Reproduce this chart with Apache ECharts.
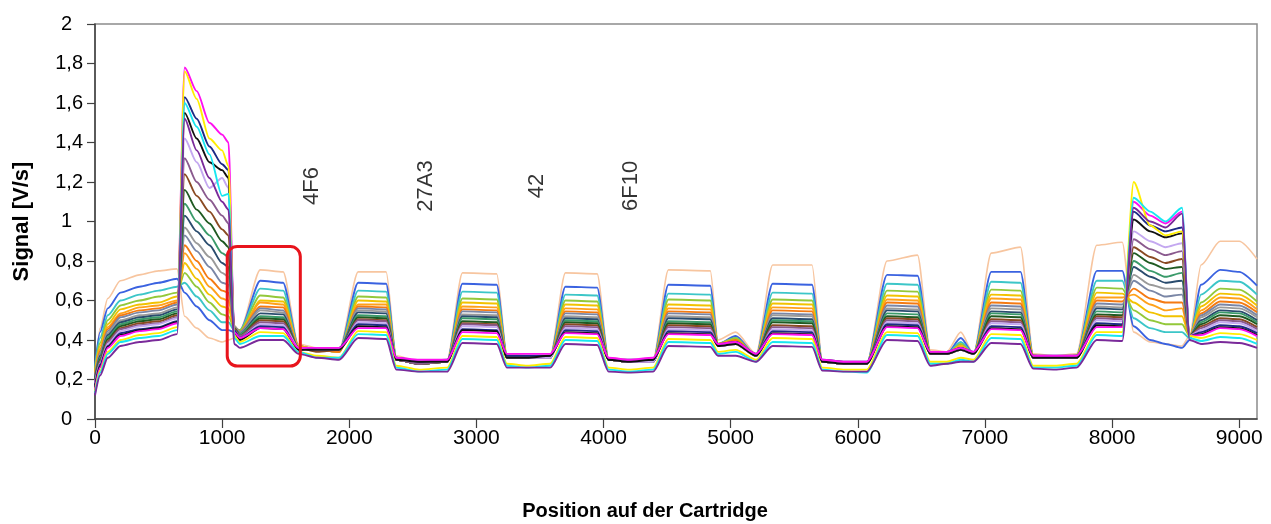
<!DOCTYPE html>
<html>
<head>
<meta charset="utf-8">
<script src="https://cdn.jsdelivr.net/npm/echarts@6/dist/echarts.min.js"></script>
<style>html,body{margin:0;padding:0;background:#fff}#c{width:1271px;height:524px}</style>
</head>
<body>
<div id="c"></div>
<script>
// Positions (x) shared by all curves
const X = [0,40,100,200,350,500,645, 705,800,900,1000,1050,1095,1140, 1300,1480,1600,1750,1920, 2070,2290,2370,2550,2770, 2890,3160,3240,3400,3580, 3700,3950,4040,4200,4390, 4510,4840,4900,5040,5200, 5330,5640,5720,5900,6070, 6230,6470,6570,6700,6810,6910, 7050,7280,7380,7550,7720, 7880,8080, 8170,8300,8420,8550,8610, 8700,8850,9000,9140];

const s_pe = [.22,.46,.61,.70,.73,.75,.76, .52,.46,.41,.39,.40,.41,.45, .755,.745,.38,.36,.35, .745,.745,.32,.29,.30, .74,.735,.33,.32,.32, .74,.735,.31,.30,.30, .755,.75,.40,.44,.33, .78,.78,.30,.29,.28, .80,.83,.35,.34,.44,.33, .84,.87,.33,.32,.33, .88,.895, .44,.39,.38,.37,.42, .78,.90,.90,.81];
const s_bl = [.27,.44,.56,.64,.67,.69,.71, .64,.57,.50,.45,.45,.44,.45, .70,.69,.37,.35,.34, .69,.685,.31,.29,.29, .685,.68,.32,.31,.31, .67,.665,.30,.29,.29, .68,.675,.38,.42,.32, .685,.68,.29,.28,.28, .73,.725,.34,.33,.41,.33, .745,.745,.32,.31,.32, .75,.75, .47,.40,.38,.36,.40, .68,.755,.745,.675];
const s_te = [.26,.41,.525,.60,.63,.65,.67, .69,.62,.55,.49,.49,.45,.45, .66,.65,.37,.35,.34, .65,.645,.31,.29,.29, .645,.64,.32,.31,.31, .63,.625,.30,.29,.29, .635,.63,.38,.41,.32, .64,.635,.29,.28,.28, .685,.68,.34,.33,.39,.33, .695,.69,.32,.31,.32, .70,.70, .51,.46,.44,.44,.41, .63,.70,.695,.63];
const s_gr = [.25,.385,.50,.575,.60,.62,.64, .74,.67,.59,.53,.52,.46,.45, .625,.615,.37,.35,.34, .62,.615,.31,.28,.29, .61,.605,.32,.31,.31, .60,.595,.30,.29,.29, .605,.60,.38,.41,.32, .605,.60,.29,.28,.28, .65,.645,.34,.33,.38,.33, .655,.65,.32,.31,.32, .665,.66, .55,.50,.48,.48,.42, .59,.66,.655,.595];
const s_go = [.24,.37,.48,.555,.58,.59,.62, .79,.71,.63,.57,.56,.46,.44, .60,.595,.37,.35,.34, .60,.595,.30,.28,.29, .59,.585,.32,.31,.31, .58,.575,.30,.29,.29, .58,.575,.38,.40,.32, .585,.58,.29,.28,.28, .625,.62,.34,.33,.37,.33, .63,.625,.32,.31,.32, .64,.635, .59,.54,.52,.52,.42, .57,.635,.63,.575];
const s_or = [.23,.355,.465,.535,.565,.575,.60, .84,.76,.67,.61,.60,.47,.44, .59,.58,.37,.35,.34, .58,.58,.30,.28,.29, .57,.565,.31,.31,.31, .56,.555,.30,.29,.29, .56,.555,.38,.40,.32, .565,.56,.29,.28,.28, .605,.60,.33,.33,.37,.33, .61,.605,.32,.31,.31, .615,.615, .63,.58,.55,.56,.42, .55,.615,.61,.555];
const s_do = [.22,.345,.455,.525,.55,.56,.59, .88,.80,.71,.65,.64,.47,.44, .57,.565,.36,.35,.34, .57,.565,.30,.28,.29, .555,.55,.31,.31,.31, .545,.54,.30,.29,.29, .545,.54,.37,.40,.32, .55,.545,.29,.28,.28, .59,.585,.33,.33,.36,.33, .59,.585,.31,.31,.31, .60,.595, .66,.61,.59,.59,.42, .535,.595,.59,.54];
const s_sl = [.22,.335,.445,.515,.54,.55,.58, .93,.85,.77,.69,.68,.47,.44, .56,.55,.36,.35,.35, .56,.555,.30,.28,.29, .545,.54,.31,.31,.31, .535,.53,.30,.29,.29, .535,.53,.37,.39,.32, .535,.53,.29,.28,.28, .575,.57,.33,.33,.36,.33, .575,.57,.31,.31,.31, .585,.58, .70,.65,.62,.63,.42, .525,.58,.575,.525];
const s_gy = [.21,.33,.435,.50,.525,.535,.565, .97,.89,.82,.74,.72,.47,.43, .55,.54,.36,.35,.35, .55,.545,.30,.28,.29, .53,.525,.31,.31,.31, .52,.515,.30,.29,.29, .52,.515,.37,.39,.32, .525,.52,.29,.28,.28, .56,.555,.33,.33,.36,.33, .56,.555,.31,.31,.31, .57,.565, .73,.68,.66,.66,.42, .515,.565,.56,.515];
const s_db = [.21,.32,.425,.49,.515,.525,.555, 1.03,.95,.88,.79,.77,.46,.43, .535,.53,.36,.35,.35, .54,.535,.30,.28,.29, .52,.515,.31,.31,.31, .51,.505,.30,.29,.29, .51,.505,.37,.39,.32, .51,.505,.29,.28,.28, .55,.545,.33,.33,.36,.33, .545,.54,.31,.31,.31, .56,.555, .77,.72,.69,.70,.42, .50,.55,.545,.50];
const s_sg = [.20,.31,.415,.48,.505,.515,.545, 1.09,1.00,.93,.84,.82,.46,.43, .52,.515,.36,.35,.35, .525,.52,.30,.28,.29, .51,.505,.31,.31,.31, .50,.495,.30,.29,.29, .495,.49,.37,.39,.32, .50,.495,.29,.28,.28, .535,.53,.33,.33,.36,.33, .535,.53,.31,.31,.31, .545,.54, .80,.75,.72,.74,.42, .49,.54,.535,.49];
const s_dg = [.20,.30,.405,.47,.495,.505,.535, 1.16,1.06,.99,.90,.87,.46,.42, .51,.505,.36,.35,.35, .515,.51,.30,.28,.29, .495,.49,.31,.31,.31, .49,.485,.30,.29,.29, .485,.48,.37,.39,.32, .49,.485,.29,.28,.28, .52,.515,.33,.33,.36,.33, .52,.515,.31,.31,.31, .53,.525, .84,.79,.76,.77,.42, .48,.525,.52,.48];
const s_br = [.19,.295,.395,.46,.485,.495,.525, 1.24,1.13,1.05,.96,.93,.46,.42, .50,.495,.36,.34,.35, .505,.50,.30,.28,.29, .485,.48,.31,.31,.31, .48,.475,.30,.29,.29, .475,.47,.37,.38,.32, .475,.47,.29,.28,.28, .51,.505,.33,.33,.35,.33, .505,.50,.31,.31,.31, .52,.515, .87,.82,.79,.81,.42, .47,.51,.505,.465];
const s_ma = [.19,.29,.39,.455,.475,.485,.515, 1.32,1.20,1.11,1.03,.99,.45,.42, .49,.485,.36,.35,.35, .50,.495,.30,.28,.29, .48,.475,.31,.31,.31, .47,.465,.30,.29,.29, .465,.46,.37,.38,.32, .465,.46,.29,.28,.28, .50,.495,.33,.33,.35,.33, .495,.49,.31,.31,.31, .51,.505, .91,.86,.83,.85,.42, .46,.50,.495,.455];
const s_la = [.18,.28,.38,.445,.47,.48,.51, 1.42,1.30,1.17,1.22,1.17,.45,.41, .48,.475,.36,.35,.35, .49,.485,.30,.29,.29, .47,.465,.31,.31,.31, .46,.455,.30,.29,.29, .455,.45,.37,.38,.32, .455,.45,.29,.28,.28, .49,.485,.33,.33,.35,.33, .485,.48,.31,.31,.31, .50,.495, .95,.90,.87,.89,.42, .45,.49,.485,.445];
const s_na = [.17,.275,.37,.435,.455,.465,.495, 1.63,1.52,1.38,1.29,1.26,.45,.41, .47,.465,.35,.36,.36, .48,.475,.31,.29,.30, .455,.45,.32,.32,.32, .45,.445,.30,.30,.30, .445,.44,.38,.39,.33, .445,.44,.30,.29,.29, .48,.475,.34,.34,.36,.34, .47,.465,.32,.32,.32, .485,.48, 1.05,.98,.95,.97,.42, .44,.475,.47,.435];
const s_bk = [.16,.265,.365,.425,.45,.46,.49, 1.55,1.42,1.30,1.26,1.22,.44,.40, .46,.455,.35,.35,.35, .47,.465,.30,.29,.29, .45,.445,.31,.31,.32, .44,.435,.30,.29,.30, .435,.43,.37,.38,.32, .435,.43,.29,.28,.28, .47,.465,.33,.33,.35,.33, .46,.455,.31,.31,.31, .475,.47, 1.01,.95,.92,.94,.42, .43,.465,.46,.425];
const s_mg = [.15,.26,.36,.42,.445,.455,.485, 1.78,1.66,1.50,1.44,1.40,.44,.41, .46,.455,.36,.36,.36, .46,.46,.31,.30,.30, .44,.435,.33,.33,.33, .435,.43,.31,.30,.31, .43,.425,.38,.39,.33, .43,.425,.30,.29,.29, .465,.46,.34,.34,.36,.34, .455,.45,.32,.32,.32, .465,.465, 1.10,1.03,.99,1.05,.42, .425,.46,.455,.42];
const s_ye = [.14,.245,.34,.40,.425,.435,.465, 1.76,1.62,1.42,1.36,1.28,.42,.39, .44,.435,.34,.32,.31, .445,.44,.27,.25,.26, .42,.415,.28,.27,.28, .415,.41,.26,.25,.26, .405,.40,.34,.35,.30, .41,.405,.26,.25,.25, .44,.435,.29,.29,.31,.30, .43,.425,.27,.27,.28, .44,.44, 1.20,.98,.93,.95,.42, .41,.435,.43,.40];
const s_cy = [.13,.235,.33,.39,.41,.42,.45, 1.60,1.48,1.34,1.13,1.14,.41,.38, .42,.42,.34,.31,.31, .43,.425,.26,.24,.25, .405,.40,.27,.26,.27, .40,.395,.25,.24,.25, .39,.385,.33,.34,.29, .39,.385,.25,.24,.235, .425,.42,.28,.28,.30,.29, .41,.405,.26,.26,.27, .425,.42, 1.12,1.05,1.00,1.07,.41, .395,.415,.41,.38];
const s_pu = [.12,.22,.31,.37,.39,.40,.43, 1.52,1.36,1.22,1.10,1.06,.38,.36, .40,.40,.33,.31,.30, .41,.405,.25,.24,.24, .385,.38,.26,.26,.26, .38,.375,.24,.235,.24, .37,.365,.32,.32,.29, .37,.365,.245,.24,.24, .40,.395,.27,.28,.29,.29, .385,.38,.255,.25,.26, .40,.395, 1.07,1.00,.97,1.04,.40, .38,.39,.385,.36];

const curves = [s_pe,s_bl,s_te,s_gr,s_go,s_or,s_do,s_sl,s_gy,s_db,s_sg,s_dg,s_br,s_ma,s_la,s_na,s_bk,s_mg,s_ye,s_cy,s_pu];
const colors = ['#F7C59F','#3A62E0','#3CC6C8','#93C83A','#F2C200','#FFA11A','#F47A12','#7A86A6','#9A9A9A','#2A4C6E','#3A9A6A','#1F5A22','#8A4A22','#8A5A8E','#C4A8F0','#1C2A86','#111111','#FF10F0','#FFEE00','#18E6F0','#7A2A9A'];

// Annotations
const annoText = ['4F6','27A3','42','6F10'];
const annoX = [1708,2605,3478,4218];
const annoY = [1.18,1.18,1.18,1.18];
// highlighted region (data coords)
const boxX = [1040,1615];
const boxY = [0.873,0.268];

const FF = '"Liberation Sans", Arial, sans-serif';
const chart = echarts.init(document.getElementById('c'), null, {renderer:'canvas'});

const series = curves.map((ys,i)=>({
  type:'line', data: X.map((x,j)=>[x, ys[j]]), showSymbol:false, symbol:'none',
  smooth:0.25, smoothMonotone:'x',
  lineStyle:{width: i===0?1.6:1.9, color: colors[i]}, itemStyle:{color:colors[i]},
  silent:true, z: 2
}));
series.push({
  type:'scatter', data: annoText.map((t,i)=>[annoX[i], annoY[i], t]), symbolSize:1,
  itemStyle:{color:'rgba(0,0,0,0)'}, silent:true, z:10,
  label:{show:true, position:'inside', rotate:90, formatter:p=>p.value[2], fontSize:22, color:'#000', fontFamily:FF}
});

chart.setOption({
  animation:false,
  backgroundColor:'#fff',
  grid:{left:95, right:14, top:24, bottom:105, containLabel:false, outerBoundsMode:'none',
    show:true, borderColor:'#8c8c8c', borderWidth:1.5, backgroundColor:'#fff'},
  xAxis:{type:'value', min:0, max:9140, interval:1000,
    name:'Position auf der Cartridge', nameLocation:'middle', nameGap:82,
    nameTextStyle:{fontFamily:FF, fontWeight:'bold', fontSize:20, color:'#000', padding:[0,62,0,0]},
    axisLine:{show:true, lineStyle:{color:'#404040', width:1.5}},
    axisTick:{show:true, inside:false, length:9, lineStyle:{color:'#404040', width:1.2}},
    axisLabel:{fontFamily:FF, fontSize:21, color:'#000', margin:9, formatter:v=>String(v)},
    splitLine:{show:false}},
  yAxis:{type:'value', min:0, max:2, interval:0.2,
    name:'Signal [V/s]', nameLocation:'middle', nameGap:62,
    nameTextStyle:{fontFamily:FF, fontWeight:'bold', fontSize:22, color:'#000'},
    axisLine:{show:true, lineStyle:{color:'#404040', width:1.5}},
    axisTick:{show:true, inside:false, length:8, lineStyle:{color:'#404040', width:1.2}},
    axisLabel:{fontFamily:FF, fontSize:20, color:'#000', margin:12,
      formatter:v=>{const r=Math.round(v*10)/10; const s=String(r).replace('.',','); return Number.isInteger(r)?'{i|'+s+'}':s;},
      rich:{i:{fontFamily:FF, fontSize:20, color:'#000', padding:[0,11,0,0]}}},
    splitLine:{show:false}},
  series: series
});

const p1 = chart.convertToPixel({gridIndex:0},[boxX[0], boxY[0]]);
const p2 = chart.convertToPixel({gridIndex:0},[boxX[1], boxY[1]]);
chart.setOption({graphic:[{type:'rect', silent:true, z:100,
  shape:{x:p1[0], y:p1[1], width:p2[0]-p1[0], height:p2[1]-p1[1], r:10},
  style:{fill:'none', stroke:'#E8141C', lineWidth:3}}]});
</script>
</body>
</html>
